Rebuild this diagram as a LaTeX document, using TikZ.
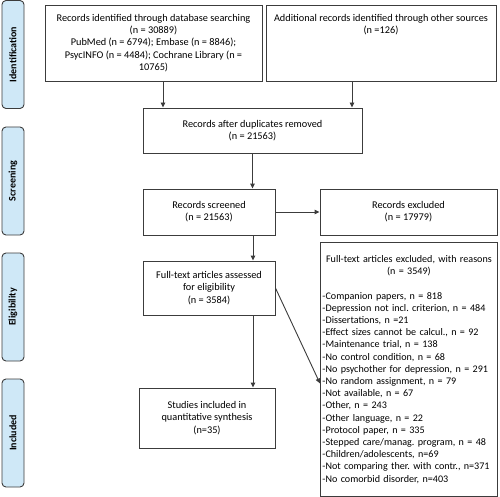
\documentclass[tikz,border=0pt]{standalone}
\usepackage{fontspec}
\setmainfont{Carlito}
\usetikzlibrary{arrows.meta}
\definecolor{phaseblue}{HTML}{CFE8F7}
\definecolor{linegray}{HTML}{3C3C3C}
\frenchspacing

\begin{document}
\begin{tikzpicture}[x=1pt, y=-1pt,
    box/.style={rectangle, draw=linegray, line width=0.9pt, inner sep=4pt,
                align=center, font=\fontsize{10.3}{12.2}\selectfont},
    phase/.style={rectangle, rounded corners=4pt, draw=linegray, line width=0.9pt,
                  fill=phaseblue, rotate=90, minimum width=108pt, minimum height=22pt,
                  inner sep=0pt, font=\fontsize{10}{12}\selectfont\bfseries},
    arr/.style={draw=linegray, line width=0.9pt, -{Triangle[length=5pt,width=4.5pt]}}]
  \useasboundingbox (0,0) rectangle (500,497);

  % Phase labels (left)
  \node[phase] (pid) at (13,54.5) {Identification};
  \node[phase] (pscr) at (13,181) {Screening};
  \node[phase] (pelig) at (13,307) {Eligibility};
  \node[phase] (pincl) at (13,433) {Included};

  % Identification
  \node[box, minimum width=217pt, minimum height=76pt] (db) at (153.5,43)
    {Records identified through database searching\\(n = 30889)\\
     PubMed (n = 6794); Embase (n = 8846);\\PsycINFO (n = 4484); Cochrane Library (n =\\10765)};
  \node[box, minimum width=230pt, minimum height=76pt] (other) at (381,43)
    {\parbox[c][68pt][t]{220pt}{\centering\vspace*{5pt}Additional records identified through other sources\\(n =126)}};

  % Screening
  \node[box, minimum width=219pt, minimum height=45pt] (dup) at (252.5,130.5)
    {Records after duplicates removed\\(n = 21563)};
  \node[box, minimum width=132pt, minimum height=46pt] (scr) at (209,212)
    {Records screened\\(n = 21563)};
  \node[box, minimum width=177pt, minimum height=46pt] (excl) at (408.5,212)
    {Records excluded\\(n = 17979)};

  % Eligibility
  \node[box, anchor=north west, text width=173pt, inner xsep=2pt, align=left,
        minimum height=254pt, font=\fontsize{10.1}{12.2}\selectfont] (reas) at (320,242)
    {{\centering Full-text articles excluded, with reasons\\(n = 3549)\par}
     \vspace{12.2pt}\raggedright
     -Companion papers, n = 818\\
     -Depression not incl. criterion, n = 484\\
     -Dissertations, n =21\\
     -Effect sizes cannot be calcul., n = 92\\
     -Maintenance trial, n = 138\\
     -No control condition, n = 68\\
     -No psychother for depression, n = 291\\
     -No random assignment, n = 79\\
     -Not available, n = 67\\
     -Other, n = 243\\
     -Other language, n = 22\\
     -Protocol paper, n = 335\\
     -Stepped care/manag. program, n = 48\\
     -Children/adolescents, n=69\\
     -Not comparing ther. with contr., n=371\\
     -No comorbid disorder, n=403};
  \node[box, minimum width=132pt, minimum height=54pt] (ft) at (209,288)
    {Full-text articles assessed\\for eligibility\\(n = 3584)};

  % Included
  \node[box, minimum width=136pt, minimum height=60pt] (incl) at (207,418)
    {Studies included in\\quantitative synthesis\\(n=35)};

  % Arrows
  \draw[arr] ([xshift=9.5pt]db.south) -- ([xshift=9.5pt]db.south |- dup.north);
  \draw[arr] ([xshift=-29pt]other.south) -- ([xshift=-29pt]other.south |- dup.north);
  \draw[arr] (dup.south) -- (dup.south |- scr.north);
  \draw[arr] (scr.east) -- (excl.west);
  \draw[arr] ([xshift=44pt]scr.south) -- ([xshift=44pt]scr.south |- ft.north);
  \draw[arr] ([xshift=44pt]ft.south) -- ([xshift=44pt]ft.south |- incl.north);
  \draw[arr] (ft.east) -- ([yshift=-14pt]reas.west);
\end{tikzpicture}
\end{document}
